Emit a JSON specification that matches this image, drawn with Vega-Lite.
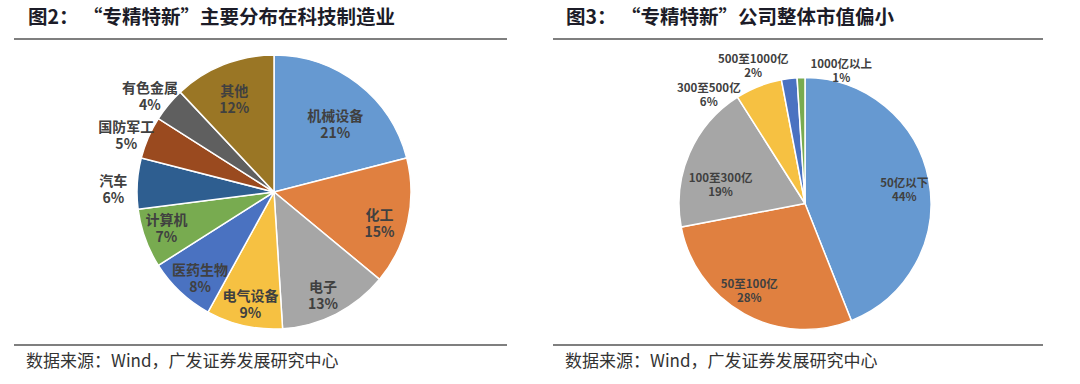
{
  "$schema": "https://vega.github.io/schema/vega-lite/v6.json",
  "background": "white",
  "padding": {"left": 13, "top": 7, "right": 0, "bottom": 0},
  "spacing": 44,
  "config": {"view": {"stroke": null}, "font": "Noto Sans CJK SC"},
  "datasets": {
    "industry": [
      {"name": "机械设备", "pct": 21},
      {"name": "化工", "pct": 15},
      {"name": "电子", "pct": 13},
      {"name": "电气设备", "pct": 9},
      {"name": "医药生物", "pct": 8},
      {"name": "计算机", "pct": 7},
      {"name": "汽车", "pct": 6},
      {"name": "国防军工", "pct": 5},
      {"name": "有色金属", "pct": 4},
      {"name": "其他", "pct": 12}
    ],
    "cap": [
      {"name": "50亿以下", "pct": 44},
      {"name": "50至100亿", "pct": 28},
      {"name": "100至300亿", "pct": 19},
      {"name": "300至500亿", "pct": 6},
      {"name": "500至1000亿", "pct": 2},
      {"name": "1000亿以上", "pct": 1}
    ],
    "edges": [{"edge": "top"}, {"edge": "bottom"}],
    "source": [{"edge": "bottom", "pos": "left", "src": "数据来源：Wind，广发证券发展研究中心"}]
  },
  "hconcat": [
    {
      "title": {"text": "图2： “专精特新”主要分布在科技制造业", "anchor": "start", "frame": "group", "dx": 14, "fontSize": 19.5, "fontWeight": "bold", "color": "#1c1c28", "offset": 10},
      "width": 493,
      "height": 306,
      "layer": [
        {
          "data": {"name": "industry"},
          "transform": [{"window": [{"op": "row_number", "as": "idx"}]}],
          "mark": {"type": "arc", "outerRadius": 137, "stroke": "white", "strokeWidth": 1.5, "xOffset": 13.5, "yOffset": 0},
          "encoding": {
            "theta": {"field": "pct", "type": "quantitative", "stack": true, "scale": {"domain": [0, 100], "nice": false}},
            "order": {"field": "idx", "type": "quantitative"},
            "color": {"field": "name", "type": "nominal", "legend": null,
              "scale": {"domain": ["机械设备", "化工", "电子", "电气设备", "医药生物", "计算机", "汽车", "国防军工", "有色金属", "其他"],
                "range": ["#6699D1", "#E08040", "#A6A6A6", "#F6C142", "#4A72C1", "#78AB50", "#2E5E90", "#9A4A1F", "#5F5F5F", "#9A7625"]}}
          }
        },
        {
          "data": {"name": "industry"},
          "transform": [
            {"window": [{"op": "sum", "field": "pct", "as": "cum"}], "frame": [null, 0]},
            {"calculate": "datum.cum - datum.pct / 2", "as": "mid"},
            {"calculate": "datum.name + '\\n' + datum.pct + '%'", "as": "label"},
            {"filter": "indexof(['汽车','国防军工','有色金属','计算机','机械设备'], datum.name) < 0"}
          ],
          "mark": {"type": "text", "radius": 108, "xOffset": 13.5, "yOffset": 0, "fontSize": 14, "fontWeight": "bold", "color": "#404040", "lineBreak": "\n", "lineHeight": 17, "align": "center", "baseline": "middle"},
          "encoding": {
            "theta": {"field": "mid", "type": "quantitative"},
            "text": {"field": "label"}
          }
        },
        {
          "data": {"name": "industry"},
          "transform": [
            {"window": [{"op": "sum", "field": "pct", "as": "cum"}], "frame": [null, 0]},
            {"calculate": "datum.cum - datum.pct / 2", "as": "mid"},
            {"calculate": "datum.name + '\\n' + datum.pct + '%'", "as": "label"},
            {"filter": "datum.name == '机械设备'"}
          ],
          "mark": {"type": "text", "radius": 100, "xOffset": 13.5, "yOffset": 0, "dy": 4, "fontSize": 14, "fontWeight": "bold", "color": "#404040", "lineBreak": "\n", "lineHeight": 17, "align": "center", "baseline": "middle"},
          "encoding": {
            "theta": {"field": "mid", "type": "quantitative"},
            "text": {"field": "label"}
          }
        },
        {
          "data": {"name": "industry"},
          "transform": [
            {"window": [{"op": "sum", "field": "pct", "as": "cum"}], "frame": [null, 0]},
            {"calculate": "datum.cum - datum.pct / 2", "as": "mid"},
            {"calculate": "datum.name + '\\n' + datum.pct + '%'", "as": "label"},
            {"filter": "datum.name == '计算机'"}
          ],
          "mark": {"type": "text", "radius": 108, "xOffset": 13.5, "yOffset": 0, "dx": -6, "dy": -8, "fontSize": 14, "fontWeight": "bold", "color": "#404040", "lineBreak": "\n", "lineHeight": 17, "align": "center", "baseline": "middle"},
          "encoding": {
            "theta": {"field": "mid", "type": "quantitative"},
            "text": {"field": "label"}
          }
        },
        {
          "data": {"name": "industry"},
          "transform": [
            {"window": [{"op": "sum", "field": "pct", "as": "cum"}], "frame": [null, 0]},
            {"calculate": "datum.cum - datum.pct / 2", "as": "mid"},
            {"calculate": "datum.name + '\\n' + datum.pct + '%'", "as": "label"},
            {"filter": "indexof(['汽车','国防军工','有色金属'], datum.name) >= 0"}
          ],
          "mark": {"type": "text", "radius": 161, "xOffset": 13.5, "yOffset": 0, "fontSize": 14, "fontWeight": "bold", "color": "#404040", "lineBreak": "\n", "lineHeight": 17, "align": "center", "baseline": "middle"},
          "encoding": {
            "theta": {"field": "mid", "type": "quantitative"},
            "text": {"field": "label"}
          }
        },
        {
          "data": {"name": "edges"},
          "mark": {"type": "rule", "color": "#555555", "strokeWidth": 1.5},
          "encoding": {"y": {"field": "edge", "type": "nominal", "axis": null, "scale": {"type": "point", "domain": ["top", "bottom"], "padding": 0}}}
        },
        {
          "data": {"name": "source"},
          "mark": {"type": "text", "align": "left", "baseline": "middle", "dx": 12, "dy": 17, "fontSize": 17, "color": "#333333"},
          "encoding": {
            "x": {"field": "pos", "type": "nominal", "axis": null, "scale": {"type": "point", "domain": ["left", "right"], "padding": 0}},
            "y": {"field": "edge", "type": "nominal", "axis": null, "scale": {"type": "point", "domain": ["top", "bottom"], "padding": 0}},
            "text": {"field": "src"}
          }
        }
      ]
    },
    {
      "title": {"text": "图3： “专精特新”公司整体市值偏小", "anchor": "start", "frame": "group", "dx": 13, "fontSize": 19.5, "fontWeight": "bold", "color": "#1c1c28", "offset": 10},
      "width": 490,
      "height": 306,
      "layer": [
        {
          "data": {"name": "cap"},
          "transform": [{"window": [{"op": "row_number", "as": "idx"}]}],
          "mark": {"type": "arc", "outerRadius": 126, "stroke": "white", "strokeWidth": 1.5, "xOffset": 7, "yOffset": 11.5},
          "encoding": {
            "theta": {"field": "pct", "type": "quantitative", "stack": true, "scale": {"domain": [0, 100], "nice": false}},
            "order": {"field": "idx", "type": "quantitative"},
            "color": {"field": "name", "type": "nominal", "legend": null,
              "scale": {"domain": ["50亿以下", "50至100亿", "100至300亿", "300至500亿", "500至1000亿", "1000亿以上"],
                "range": ["#6699D1", "#E08040", "#A6A6A6", "#F6C142", "#4A72C1", "#78AB50"]}}
          }
        },
        {
          "data": {"name": "cap"},
          "transform": [
            {"window": [{"op": "sum", "field": "pct", "as": "cum"}], "frame": [null, 0]},
            {"calculate": "datum.cum - datum.pct / 2", "as": "mid"},
            {"calculate": "datum.name + '\\n' + datum.pct + '%'", "as": "label"},
            {"filter": "datum.name == '50亿以下'"}
          ],
          "mark": {"type": "text", "radius": 95, "xOffset": 7, "yOffset": 11.5, "dx": 6, "dy": -2, "fontSize": 11.5, "fontWeight": "bold", "color": "#404040", "lineBreak": "\n", "lineHeight": 14, "align": "center", "baseline": "middle"},
          "encoding": {
            "theta": {"field": "mid", "type": "quantitative"},
            "text": {"field": "label"}
          }
        },
        {
          "data": {"name": "cap"},
          "transform": [
            {"window": [{"op": "sum", "field": "pct", "as": "cum"}], "frame": [null, 0]},
            {"calculate": "datum.cum - datum.pct / 2", "as": "mid"},
            {"calculate": "datum.name + '\\n' + datum.pct + '%'", "as": "label"},
            {"filter": "datum.name == '50至100亿'"}
          ],
          "mark": {"type": "text", "radius": 95, "xOffset": 7, "yOffset": 11.5, "dx": -10, "dy": -2, "fontSize": 11.5, "fontWeight": "bold", "color": "#404040", "lineBreak": "\n", "lineHeight": 14, "align": "center", "baseline": "middle"},
          "encoding": {
            "theta": {"field": "mid", "type": "quantitative"},
            "text": {"field": "label"}
          }
        },
        {
          "data": {"name": "cap"},
          "transform": [
            {"window": [{"op": "sum", "field": "pct", "as": "cum"}], "frame": [null, 0]},
            {"calculate": "datum.cum - datum.pct / 2", "as": "mid"},
            {"calculate": "datum.name + '\\n' + datum.pct + '%'", "as": "label"},
            {"filter": "datum.name == '100至300亿'"}
          ],
          "mark": {"type": "text", "radius": 92, "xOffset": 7, "yOffset": 11.5, "dy": 12, "fontSize": 11.5, "fontWeight": "bold", "color": "#404040", "lineBreak": "\n", "lineHeight": 14, "align": "center", "baseline": "middle"},
          "encoding": {
            "theta": {"field": "mid", "type": "quantitative"},
            "text": {"field": "label"}
          }
        },
        {
          "data": {"name": "cap"},
          "transform": [
            {"window": [{"op": "sum", "field": "pct", "as": "cum"}], "frame": [null, 0]},
            {"calculate": "datum.cum - datum.pct / 2", "as": "mid"},
            {"calculate": "datum.name + '\\n' + datum.pct + '%'", "as": "label"},
            {"filter": "datum.name == '300至500亿'"}
          ],
          "mark": {"type": "text", "radius": 150, "xOffset": 7, "yOffset": 11.5, "dx": -41, "dy": 25, "fontSize": 11.5, "fontWeight": "bold", "color": "#404040", "lineBreak": "\n", "lineHeight": 14, "align": "center", "baseline": "middle"},
          "encoding": {
            "theta": {"field": "mid", "type": "quantitative"},
            "text": {"field": "label"}
          }
        },
        {
          "data": {"name": "cap"},
          "transform": [
            {"window": [{"op": "sum", "field": "pct", "as": "cum"}], "frame": [null, 0]},
            {"calculate": "datum.cum - datum.pct / 2", "as": "mid"},
            {"calculate": "datum.name + '\\n' + datum.pct + '%'", "as": "label"},
            {"filter": "datum.name == '500至1000亿'"}
          ],
          "mark": {"type": "text", "radius": 150, "xOffset": 7, "yOffset": 11.5, "dx": -33, "dy": 5, "fontSize": 11.5, "fontWeight": "bold", "color": "#404040", "lineBreak": "\n", "lineHeight": 14, "align": "center", "baseline": "middle"},
          "encoding": {
            "theta": {"field": "mid", "type": "quantitative"},
            "text": {"field": "label"}
          }
        },
        {
          "data": {"name": "cap"},
          "transform": [
            {"window": [{"op": "sum", "field": "pct", "as": "cum"}], "frame": [null, 0]},
            {"calculate": "datum.cum - datum.pct / 2", "as": "mid"},
            {"calculate": "datum.name + '\\n' + datum.pct + '%'", "as": "label"},
            {"filter": "datum.name == '1000亿以上'"}
          ],
          "mark": {"type": "text", "radius": 150, "xOffset": 7, "yOffset": 11.5, "dx": 41, "dy": 11, "fontSize": 11.5, "fontWeight": "bold", "color": "#404040", "lineBreak": "\n", "lineHeight": 14, "align": "center", "baseline": "middle"},
          "encoding": {
            "theta": {"field": "mid", "type": "quantitative"},
            "text": {"field": "label"}
          }
        },
        {
          "data": {"name": "edges"},
          "mark": {"type": "rule", "color": "#555555", "strokeWidth": 1.5},
          "encoding": {"y": {"field": "edge", "type": "nominal", "axis": null, "scale": {"type": "point", "domain": ["top", "bottom"], "padding": 0}}}
        },
        {
          "data": {"name": "source"},
          "mark": {"type": "text", "align": "left", "baseline": "middle", "dx": 12, "dy": 17, "fontSize": 17, "color": "#333333"},
          "encoding": {
            "x": {"field": "pos", "type": "nominal", "axis": null, "scale": {"type": "point", "domain": ["left", "right"], "padding": 0}},
            "y": {"field": "edge", "type": "nominal", "axis": null, "scale": {"type": "point", "domain": ["top", "bottom"], "padding": 0}},
            "text": {"field": "src"}
          }
        }
      ]
    }
  ]
}
